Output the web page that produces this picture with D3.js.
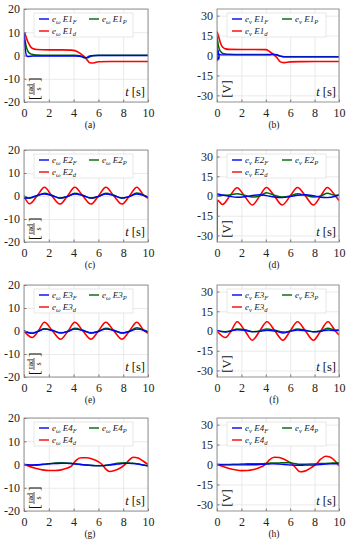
<!DOCTYPE html>
<html>
<head>
<meta charset="utf-8">
<script src="https://cdn.jsdelivr.net/npm/d3@7"></script>
<style>
body { margin: 0; background: #fff; }
svg { display: block; }
</style>
</head>
<body>
<div id="chart"></div>
<script>
// ---- data ----
const xTicks = [0, 2, 4, 6, 8, 10];
const yTicksW = [-20, -10, 0, 10, 20];
const yTicksV = [-30, -15, 0, 15, 30];

// (a) e_w E1
const tA = [0, 0.1, 0.2, 0.3, 0.4, 0.5, 0.7, 1, 2, 3, 3.8, 4.1, 4.5, 4.7, 4.9, 5.1, 5.3, 5.6, 6, 7, 8, 9, 10];
const aF = [10, 3, 0, -0.4, -0.4, -0.3, -0.2, -0.2, -0.2, -0.2, -0.2, -0.2, -0.3, -0.6, -1.0, -0.8, -0.2, 0, 0, 0, 0, 0, 0];
const aP = [9, 6, 3.5, 2, 1.2, 0.8, 0.4, 0.2, 0.1, 0.1, 0.1, 0.1, -0.1, -0.5, -0.9, -1.0, -0.6, -0.1, 0.1, 0.1, 0.1, 0.1, 0.1];
const aD = [10, 9, 7.5, 6, 5, 4, 3, 2.6, 2.4, 2.4, 2.3, 2.1, 1.0, 0.2, -0.7, -2.0, -3.1, -3.2, -2.7, -2.6, -2.6, -2.6, -2.6];

// (b) e_v E1
const tB = [0, 0.05, 0.1, 0.15, 0.2, 0.3, 0.4, 0.5, 0.7, 1, 2, 3, 4, 4.3, 4.6, 4.9, 5.2, 5.5, 6, 7, 8, 9, 10];
const bF = [12, -4, 4, -3, 1, 0.5, 0.5, 0.5, 0.5, 0.5, 0.5, 0.5, 0.5, 0.6, 1.0, 0.6, -0.5, -1, -1, -1, -1, -1, -1];
const bP = [15, 11, 8, 6, 4.5, 3, 2, 1.5, 1.2, 1, 0.8, 0.8, 0.8, 0.8, 0.6, 0.3, -0.5, -1, -1, -1, -1, -1, -1];
const bD = [18, 16.5, 15, 13.5, 12, 9, 7, 6, 5, 4.6, 4.5, 4.5, 4.4, 3.0, 1.0, -1.5, -4.8, -5.4, -4.8, -4.6, -4.5, -4.5, -4.5];

// (c) e_w E2
const tC = [0, 0.45, 1.05, 1.65, 2.25, 2.9, 3.5, 4.1, 4.75, 5.4, 6.0, 6.6, 7.25, 7.9, 8.5, 9.1, 9.7, 10];
const cF = [-1, -0.8, 0.3, 0.9, 0.2, -0.9, -0.2, 0.9, 0.2, -0.9, -0.2, 0.9, 0.2, -0.9, -0.2, 0.9, 0.2, -0.5];
const cP = [0, -1, 0, 1.2, 0.3, -1, -0.2, 1.2, 0.3, -1, -0.2, 1.2, 0.3, -1, -0.2, 1.3, 0.3, -0.6];
const cD = [0, -3.4, 0, 3.8, 0, -3.5, 0, 3.8, 0, -3.5, 0, 3.8, 0, -3.5, 0, 3.8, 0, -1];

// (d) e_v E2
const tD = [0, 0.03, 0.45, 1.05, 1.65, 2.25, 2.9, 3.5, 4.05, 4.7, 5.35, 6.0, 6.6, 7.25, 7.9, 8.5, 9.05, 9.7, 10];
const dF = [1.5, 1.5, 0.8, -0.3, -1.0, -0.6, 0.4, 1.0, 0.3, -0.8, -1.2, -0.4, 0.6, 1.0, 0.2, -1.0, -1.2, -0.2, 0.8];
const dP = [0, 0, 0.5, 0.8, 1.8, 0.5, -0.8, 0, 2.5, 0.5, -0.8, 0, 1.8, 0.5, -0.8, 0, 2, 0.5, 0.8];
const dD = [-40, -3, -6.5, 0, 6.3, 0, -6.8, 0, 6.5, 0, -6.8, 0, 6.5, 0, -6.8, 0, 6.5, 0, -3.5];

// (e) e_w E3
const tE = [0, 0.65, 1.15, 1.65, 2.3, 2.95, 3.55, 4.1, 4.75, 5.4, 6.0, 6.6, 7.25, 7.9, 8.5, 9.1, 9.7, 10];
const eF = [0, -1, -0.2, 0.8, 0.2, -0.8, -0.2, 0.8, 0.2, -0.9, -0.2, 0.8, 0.2, -0.9, -0.2, 0.8, 0.2, -0.5];
const eP = [0, -1, 0, 1, 0.3, -0.9, -0.1, 1.2, 0.3, -0.9, -0.1, 1.2, 0.3, -0.9, -0.1, 1.4, 0.3, -0.4];
const eD = [0, -2.8, 0, 3.8, 0, -3.6, 0, 3.8, 0, -3.6, 0, 3.8, 0, -3.6, 0, 3.8, 0, -1];

// (f) e_v E3
const tF = [0, 0.7, 1.15, 1.65, 2.3, 2.9, 3.5, 4.1, 4.75, 5.4, 6.0, 6.6, 7.25, 7.9, 8.5, 9.1, 9.7, 10];
const fF = [0.5, -0.8, 0, 1.0, 0.5, -0.5, -0.3, 0.5, 0, -1.5, -0.3, 0.8, 0.3, -0.6, -0.2, 0.8, 0.3, 0.5];
const fP = [0, -0.5, 0.2, 1.5, 1, -0.5, 0, 1.5, 0.5, -0.8, 0, 1.5, 0.5, -0.5, 0, 2, 0.8, 1];
const fD = [0, -5, 0, 7, 0, -7, 0, 7, 0, -7, 0, 7, 0, -7, 0, 7, 0, -3];

// (g) e_w E4
const tG = [0, 0.5, 1, 1.5, 2, 2.5, 3, 3.5, 3.8, 4.0, 4.2, 4.6, 5, 5.5, 6, 6.3, 6.6, 6.9, 7.3, 7.8, 8.2, 8.5, 8.8, 9.2, 9.6, 10];
const gF = [0, -0.2, -0.1, 0.1, 0.3, 0.4, 0.5, 0.5, 0.4, 0.3, 0.2, 0, -0.2, -0.4, -0.5, -0.5, -0.4, -0.2, 0, 0.3, 0.5, 0.5, 0.4, 0.2, -0.2, -0.6];
const gP = [0, -0.3, -0.3, 0, 0.3, 0.6, 0.7, 0.6, 0.5, 0.4, 0.2, 0, -0.2, -0.4, -0.5, -0.5, -0.3, -0.1, 0.3, 0.6, 0.7, 0.6, 0.5, 0.2, -0.2, -0.6];
const gD = [0, -1, -1.7, -2.3, -2.6, -2.6, -2.3, -1.5, -0.8, 0.5, 1.8, 2.9, 2.9, 2.4, 1.2, 0, -2, -3, -2.6, -1.4, 0.3, 2, 3.1, 2.8, 1.5, 0];

// (h) e_v E4
const tH = [0, 0.5, 1, 1.5, 2, 2.5, 3, 3.5, 3.8, 4.0, 4.3, 4.7, 5.1, 5.5, 5.9, 6.2, 6.5, 6.8, 7.2, 7.7, 8.1, 8.5, 8.9, 9.3, 9.7, 10];
const hF = [0, -0.3, -0.3, -0.3, -0.3, -0.2, -0.2, 0, 0.2, 0.3, 0.4, 0.5, 0.3, 0, -0.3, -0.5, -0.6, -0.6, -0.5, -0.5, -0.3, 0, 0.3, 0.5, 0.6, 0.8];
const hP = [0, 0, 0, 0.2, 0.3, 0.5, 0.5, 0.5, 0.6, 0.8, 1, 1.2, 1.2, 1.3, 1.3, 1.0, 0.5, 0.2, 0.2, 0.3, 0.5, 0.7, 0.8, 1, 1.2, 1.3];
const hD = [0, -1.5, -3, -4, -4.6, -4.5, -3.8, -2.2, -1, 0.5, 3.5, 5.5, 5.3, 4, 2, 0, -3, -5.5, -5, -2.5, 0, 4, 6.2, 5.5, 2.5, -1];

const colF = "#0000ff", colP = "#006400", colD = "#ff0000";

// layout of the 8 subfigures
const colL = {left: 24, right: 148, yTicks: yTicksW, yDom: [-20, 20], sym: "\u03c9", unit: "rad"};
const colR = {left: 217, right: 339, yTicks: yTicksV, yDom: [-35, 35], sym: "v", unit: "V"};
const rows = [{top: 9, bottom: 102}, {top: 150, bottom: 242}, {top: 285, bottom: 377}, {top: 418, bottom: 511}];

const panels = [
  {c: colL, r: 0, n: 1, lab: "(a)", t: tA, F: aF, P: aP, D: aD},
  {c: colR, r: 0, n: 1, lab: "(b)", t: tB, F: bF, P: bP, D: bD},
  {c: colL, r: 1, n: 2, lab: "(c)", t: tC, F: cF, P: cP, D: cD},
  {c: colR, r: 1, n: 2, lab: "(d)", t: tD, F: dF, P: dP, D: dD},
  {c: colL, r: 2, n: 3, lab: "(e)", t: tE, F: eF, P: eP, D: eD},
  {c: colR, r: 2, n: 3, lab: "(f)", t: tF, F: fF, P: fP, D: fD},
  {c: colL, r: 3, n: 4, lab: "(g)", t: tG, F: gF, P: gP, D: gD},
  {c: colR, r: 3, n: 4, lab: "(h)", t: tH, F: hF, P: hP, D: hD}
];

const serif = "'Liberation Serif', 'Times New Roman', serif";

const svg = d3.select("#chart")
  .append("svg")
  .attr("width", 353)
  .attr("height", 550)
  .style("font-family", serif);

// legend label like  e_w E1_F
function legendText(sel, sym, n, sub) {
  sel.append("tspan").attr("font-style", "italic").text("e");
  sel.append("tspan").attr("font-size", 6.5).attr("dy", 2).attr("font-style", "italic").text(sym);
  sel.append("tspan").attr("dy", -2).attr("font-style", "italic").text(" E" + n);
  sel.append("tspan").attr("font-size", 6.5).attr("dy", 2).attr("font-style", "italic").text(sub);
}

panels.forEach(function(p, i) {
  const row = rows[p.r];
  const left = p.c.left, right = p.c.right, top = row.top, bottom = row.bottom;

  const x = d3.scaleLinear().domain([0, 10]).range([left, right]);
  const y = d3.scaleLinear().domain(p.c.yDom).range([bottom, top]);

  const g = svg.append("g");

  g.append("rect")
    .attr("x", left).attr("y", top)
    .attr("width", right - left).attr("height", bottom - top)
    .attr("fill", "#fff");

  // grid
  g.append("g")
    .attr("transform", "translate(0," + bottom + ")")
    .call(d3.axisBottom(x).tickValues(xTicks).tickSize(-(bottom - top)).tickFormat(""))
    .call(a => a.select(".domain").remove())
    .selectAll("line").attr("stroke", "#e4e4e4").attr("stroke-width", 0.8);
  g.append("g")
    .attr("transform", "translate(" + left + ",0)")
    .call(d3.axisLeft(y).tickValues(p.c.yTicks).tickSize(-(right - left)).tickFormat(""))
    .call(a => a.select(".domain").remove())
    .selectAll("line").attr("stroke", "#e4e4e4").attr("stroke-width", 0.8);

  // lines
  const clipId = "clip" + i;
  svg.append("clipPath").attr("id", clipId)
    .append("rect")
    .attr("x", left).attr("y", top)
    .attr("width", right - left).attr("height", bottom - top);

  const line = d3.line()
    .x(function(d, k) { return x(p.t[k]); })
    .y(function(d) { return y(d); })
    .curve(d3.curveMonotoneX);

  const lg = g.append("g").attr("clip-path", "url(#" + clipId + ")");
  lg.append("path").attr("d", line(p.D)).attr("fill", "none").attr("stroke", colD).attr("stroke-width", 1.6);
  lg.append("path").attr("d", line(p.P)).attr("fill", "none").attr("stroke", colP).attr("stroke-width", 1.5);
  lg.append("path").attr("d", line(p.F)).attr("fill", "none").attr("stroke", colF).attr("stroke-width", 1.4);

  // tick labels and inward ticks
  const ax = g.append("g")
    .attr("transform", "translate(0," + bottom + ")")
    .call(d3.axisBottom(x).tickValues(xTicks).tickSizeInner(-2.5).tickSizeOuter(0).tickPadding(6).tickFormat(d => String(d)));
  ax.select(".domain").remove();
  ax.selectAll("line").attr("stroke", "#777");
  ax.selectAll("text").attr("font-size", 12).attr("font-family", serif).attr("fill", "#222");

  const ay = g.append("g")
    .attr("transform", "translate(" + left + ",0)")
    .call(d3.axisLeft(y).tickValues(p.c.yTicks).tickSizeInner(-2.5).tickSizeOuter(0).tickPadding(4).tickFormat(d => String(d)));
  ay.select(".domain").remove();
  ay.selectAll("line").attr("stroke", "#777");
  ay.selectAll("text").attr("font-size", 12).attr("font-family", serif).attr("fill", "#222");

  // frame
  g.append("rect")
    .attr("x", left).attr("y", top)
    .attr("width", right - left).attr("height", bottom - top)
    .attr("fill", "none").attr("stroke", "#888").attr("stroke-width", 0.9);

  // legend
  const lx = left + 10, ly = top + 4;
  g.append("rect")
    .attr("x", lx).attr("y", ly)
    .attr("width", 99).attr("height", 24)
    .attr("fill", "#fff").attr("stroke", "#d8d8d8").attr("stroke-width", 0.6);
  const items = [
    {col: colF, sub: "F", dx: 5, dy: 6},
    {col: colP, sub: "P", dx: 55, dy: 6},
    {col: colD, sub: "d", dx: 5, dy: 18}
  ];
  items.forEach(function(it) {
    g.append("line")
      .attr("x1", lx + it.dx).attr("x2", lx + it.dx + 10)
      .attr("y1", ly + it.dy).attr("y2", ly + it.dy)
      .attr("stroke", it.col).attr("stroke-width", 1.4);
    const tx = g.append("text")
      .attr("x", lx + it.dx + 13).attr("y", ly + it.dy + 2.5)
      .attr("font-size", 9).attr("fill", "#222");
    legendText(tx, p.c.sym, p.n, it.sub);
  });

  // t [s]
  const ts = g.append("text")
    .attr("x", right - 3).attr("y", bottom - 6)
    .attr("text-anchor", "end")
    .attr("font-size", 12.5).attr("fill", "#111");
  ts.append("tspan").attr("font-style", "italic").text("t");
  ts.append("tspan").text(" [s]");

  // unit label, rotated
  const ug = g.append("g")
    .attr("transform", "translate(" + (left + 10) + "," + (bottom - 13) + ") rotate(-90)");
  if (p.c.unit === "rad") {
    ug.append("text").attr("x", -11).attr("y", 4.5).attr("font-size", 14).attr("fill", "#111").text("[");
    ug.append("text").attr("x", 0).attr("y", -1.5).attr("text-anchor", "middle").attr("font-size", 8).attr("fill", "#111").text("rad");
    ug.append("line").attr("x1", -6).attr("x2", 6).attr("y1", 0).attr("y2", 0).attr("stroke", "#111").attr("stroke-width", 0.7);
    ug.append("text").attr("x", 0).attr("y", 6.5).attr("text-anchor", "middle").attr("font-size", 8).attr("fill", "#111").text("s");
    ug.append("text").attr("x", 7).attr("y", 4.5).attr("font-size", 14).attr("fill", "#111").text("]");
  } else {
    ug.append("text").attr("x", 0).attr("y", 4).attr("text-anchor", "middle").attr("font-size", 12.5).attr("fill", "#111").text("[V]");
  }

  // subfigure label
  g.append("text")
    .attr("x", (left + right) / 2 + (p.c === colL ? 4 : -4))
    .attr("y", bottom + 26)
    .attr("text-anchor", "middle")
    .attr("font-size", 9.5).attr("fill", "#111")
    .text(p.lab);
});
</script>
</body>
</html>
